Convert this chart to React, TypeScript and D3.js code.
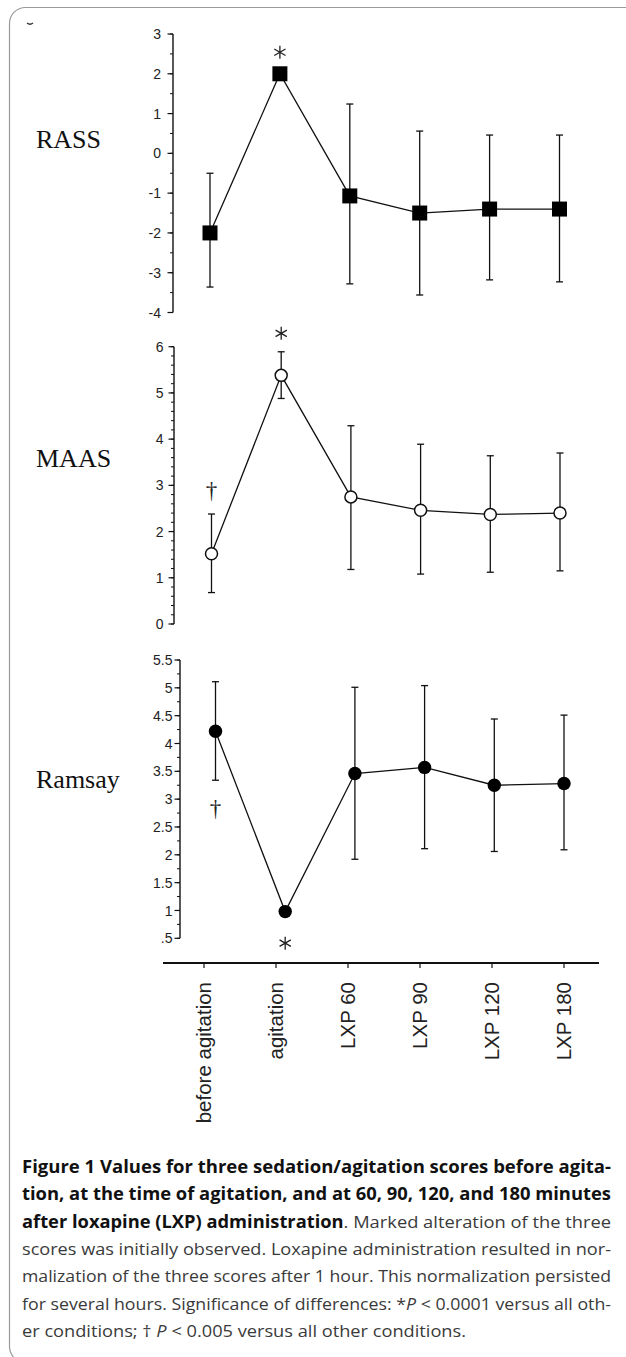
import React from 'react';
import * as d3 from 'd3';

const categories = ['before agitation', 'agitation', 'LXP 60', 'LXP 90', 'LXP 120', 'LXP 180'];

const rassMean = [-2.0, 2.0, -1.07, -1.5, -1.4, -1.4];
const rassHigh = [-0.5, null, 1.24, 0.56, 0.46, 0.46];
const rassLow = [-3.36, null, -3.28, -3.56, -3.18, -3.23];
const rassTicks = [3, 2, 1, 0, -1, -2, -3, -4];
const rassTickLabels = ['3', '2', '1', '0', '-1', '-2', '-3', '-4'];

const maasMean = [1.52, 5.38, 2.75, 2.46, 2.37, 2.4];
const maasHigh = [2.38, 5.89, 4.29, 3.89, 3.64, 3.7];
const maasLow = [0.68, 4.88, 1.18, 1.08, 1.12, 1.15];
const maasTicks = [6, 5, 4, 3, 2, 1, 0];
const maasTickLabels = ['6', '5', '4', '3', '2', '1', '0'];

const ramsayMean = [4.22, 0.98, 3.46, 3.57, 3.25, 3.28];
const ramsayHigh = [5.11, null, 5.01, 5.04, 4.44, 4.51];
const ramsayLow = [3.34, null, 1.92, 2.11, 2.06, 2.09];
const ramsayTicks = [5.5, 5, 4.5, 4, 3.5, 3, 2.5, 2, 1.5, 1, 0.5];
const ramsayTickLabels = ['5.5', '5', '4.5', '4', '3.5', '3', '2.5', '2', '1.5', '1', '.5'];

type Marker = 'square' | 'open' | 'filled';
interface Note { index: number; sym: 'star' | 'dagger'; dy: number; }
interface PanelDef {
    name: string;
    nameY: number;
    mean: number[];
    high: (number | null)[];
    low: (number | null)[];
    ticks: number[];
    tickLabels: string[];
    minorStep: number;
    domain: [number, number];
    yRange: [number, number];
    axisX: number;
    xRange: [number, number];
    labelGap: number;
    marker: Marker;
    notes: Note[];
}

const panels: PanelDef[] = [
    {
        name: 'RASS', nameY: 148,
        mean: rassMean, high: rassHigh, low: rassLow,
        ticks: rassTicks, tickLabels: rassTickLabels, minorStep: 0.5,
        domain: [-4, 3], yRange: [312.5, 34],
        axisX: 173, xRange: [210, 559.5], labelGap: 12,
        marker: 'square',
        notes: [{ index: 1, sym: 'star', dy: -21.5 }],
    },
    {
        name: 'MAAS', nameY: 467,
        mean: maasMean, high: maasHigh, low: maasLow,
        ticks: maasTicks, tickLabels: maasTickLabels, minorStep: 0.2,
        domain: [0, 6], yRange: [624, 346.7],
        axisX: 174, xRange: [211.5, 560], labelGap: 10.5,
        marker: 'open',
        notes: [{ index: 1, sym: 'star', dy: -42 }, { index: 0, sym: 'dagger', dy: -61 }],
    },
    {
        name: 'Ramsay', nameY: 788,
        mean: ramsayMean, high: ramsayHigh, low: ramsayLow,
        ticks: ramsayTicks, tickLabels: ramsayTickLabels, minorStep: 0.25,
        domain: [0.5, 5.5], yRange: [938.3, 660],
        axisX: 180, xRange: [215.5, 564], labelGap: 7.5,
        marker: 'filled',
        notes: [{ index: 1, sym: 'star', dy: 31.6 }, { index: 0, sym: 'dagger', dy: 79 }],
    },
];

const captionLines: { parts: { t: string; b?: boolean; i?: boolean }[]; full: boolean }[] = [
    { parts: [{ t: 'Figure 1 Values for three sedation/agitation scores before agita-', b: true }], full: true },
    { parts: [{ t: 'tion, at the time of agitation, and at 60, 90, 120, and 180 minutes', b: true }], full: true },
    { parts: [{ t: 'after loxapine (LXP) administration', b: true }, { t: '. Marked alteration of the three' }], full: true },
    { parts: [{ t: 'scores was initially observed. Loxapine administration resulted in nor-' }], full: true },
    { parts: [{ t: 'malization of the three scores after 1 hour. This normalization persisted' }], full: true },
    { parts: [{ t: 'for several hours. Significance of differences: *' }, { t: 'P', i: true }, { t: ' < 0.0001 versus all oth-' }], full: true },
    { parts: [{ t: 'er conditions; \u2020 ' }, { t: 'P', i: true }, { t: ' < 0.005 versus all other conditions.' }], full: false },
];

const SANS = "'Liberation Sans', Arial, Helvetica, sans-serif";
const SERIF = "'Liberation Serif', 'Times New Roman', serif";

function Star({ cx, cy }: { cx: number; cy: number }) {
    const r = 6.5;
    const d = [90, 30, 150].map(a => {
        const dx = r * Math.cos((a * Math.PI) / 180);
        const dy = r * Math.sin((a * Math.PI) / 180);
        return `M${cx - dx},${cy - dy}L${cx + dx},${cy + dy}`;
    }).join('');
    return <path d={d} stroke="#222" strokeWidth={1.3} fill="none" />;
}

function Panel({ p }: { p: PanelDef }) {
    const x = d3.scalePoint<string>().domain(categories).range(p.xRange);
    const y = d3.scaleLinear().domain(p.domain).range(p.yRange);
    const line = d3.line<number>()
        .x((_d, i) => x(categories[i])!)
        .y(d => y(d));
    const minors = d3.range(p.domain[0], p.domain[1] + 1e-6, p.minorStep);

    return (
        <g>
            <text x={36} y={p.nameY} fontFamily={SERIF} fontSize={26} fill="#111">{p.name}</text>
            {/* y axis */}
            <line x1={p.axisX} x2={p.axisX} y1={y(p.domain[0])} y2={y(p.domain[1])} stroke="#111" strokeWidth={1.4} />
            {minors.map((v, i) => (
                <line key={'m' + i} x1={p.axisX - 3} x2={p.axisX} y1={y(v)} y2={y(v)} stroke="#111" strokeWidth={1} />
            ))}
            {p.ticks.map((v, i) => (
                <g key={'t' + i}>
                    <line x1={p.axisX - 5.5} x2={p.axisX} y1={y(v)} y2={y(v)} stroke="#111" strokeWidth={1.2} />
                    <text x={p.axisX - p.labelGap} y={y(v)} dy="0.36em" textAnchor="end"
                        fontFamily={SANS} fontSize={14} fill="#222">{p.tickLabels[i]}</text>
                </g>
            ))}
            {/* error bars */}
            {p.mean.map((_m, i) => {
                const hi = p.high[i];
                const lo = p.low[i];
                if (hi === null || lo === null) return null;
                const cx = x(categories[i])!;
                return (
                    <g key={'e' + i} stroke="#111" strokeWidth={1.3}>
                        <line x1={cx} x2={cx} y1={y(hi)} y2={y(lo)} />
                        <line x1={cx - 3.5} x2={cx + 3.5} y1={y(hi)} y2={y(hi)} />
                        <line x1={cx - 3.5} x2={cx + 3.5} y1={y(lo)} y2={y(lo)} />
                    </g>
                );
            })}
            <path d={line(p.mean) ?? ''} fill="none" stroke="#111" strokeWidth={1.3} />
            {p.mean.map((m, i) => {
                const cx = x(categories[i])!;
                const cy = y(m);
                if (p.marker === 'square') {
                    return <rect key={'p' + i} x={cx - 7.5} y={cy - 7.5} width={15} height={15} fill="#000" />;
                }
                if (p.marker === 'open') {
                    return <circle key={'p' + i} cx={cx} cy={cy} r={6} fill="#fff" stroke="#111" strokeWidth={1.5} />;
                }
                return <circle key={'p' + i} cx={cx} cy={cy} r={6.7} fill="#000" />;
            })}
            {p.notes.map((n, i) => {
                const cx = x(categories[n.index])!;
                const cy = y(p.mean[n.index]) + n.dy;
                if (n.sym === 'star') return <Star key={'n' + i} cx={cx} cy={cy} />;
                return (
                    <text key={'n' + i} x={cx} y={cy + 5.5} textAnchor="middle" fontFamily={SERIF}
                        fontSize={23} fill="#222">{'\u2020'}</text>
                );
            })}
        </g>
    );
}

function XAxis() {
    const x = d3.scalePoint<string>().domain(categories).range([204, 564]);
    const axisY = 963;
    return (
        <g>
            <line x1={163} x2={599} y1={axisY} y2={axisY} stroke="#111" strokeWidth={1.8} />
            {categories.map(c => (
                <g key={c}>
                    <line x1={x(c)!} x2={x(c)!} y1={axisY} y2={axisY + 5} stroke="#111" strokeWidth={1.2} />
                    <text transform={`translate(${x(c)},982) rotate(-90)`} dy="0.35em" textAnchor="end"
                        fontFamily={SANS} fontSize={20.5} fill="#222">{c}</text>
                </g>
            ))}
        </g>
    );
}

function Caption() {
    const left = 22;
    const right = 611;
    return (
        <g fontFamily="'Open Sans', 'Noto Sans', sans-serif" fontSize={17}>
            {captionLines.map((ln, i) => (
                <text key={i} x={left} y={1173 + i * 27.3}
                    textLength={ln.full ? right - left : 444} lengthAdjust="spacingAndGlyphs">
                    {ln.parts.map((pt, j) => (
                        <tspan key={j} fontWeight={pt.b ? 700 : 400} fontStyle={pt.i ? 'italic' : 'normal'}
                            fill={pt.b ? '#111' : '#3a3a3a'}>{pt.t}</tspan>
                    ))}
                </text>
            ))}
        </g>
    );
}

export default function App() {
    const width = 626;
    const height = 1357;
    return (
        <svg width={width} height={height} viewBox={`0 0 ${width} ${height}`}
            style={{ position: 'absolute', left: 0, top: 0, background: '#fff' }}>
            <rect x={0} y={0} width={width} height={height} fill="#fff" />
            <rect x={9.5} y={7.5} width={640} height={1355} rx={16} fill="none" stroke="#9a9a9a" strokeWidth={1.2} />
            <path d="M27,23 Q30,25.5 33,23" stroke="#333" strokeWidth={1.3} fill="none" />
            {panels.map(p => <Panel key={p.name} p={p} />)}
            <XAxis />
            <Caption />
        </svg>
    );
}
